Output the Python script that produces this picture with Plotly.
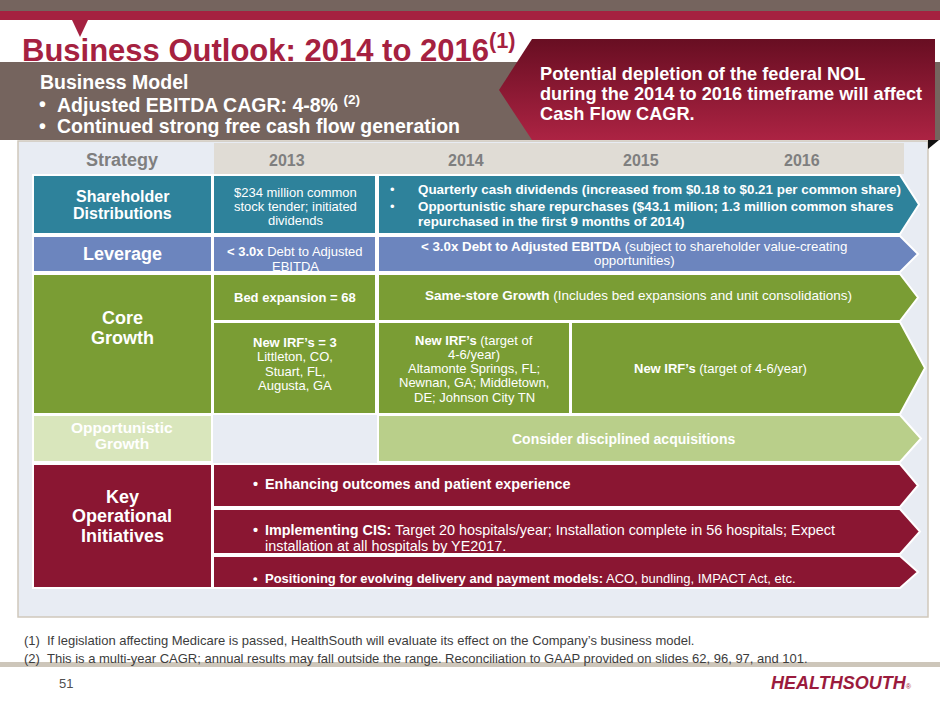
import plotly.graph_objects as go

FONT = "Arial, Liberation Sans, sans-serif"

# colours taken from the slide
CRIMSON = "#A52140"
BROWN = "#75645E"
TEAL = "#2E829B"
SLATE = "#6C85BE"
GREEN = "#7A9D34"
PALE_GREEN = "#D9E6BC"
LIGHT_GREEN = "#B9CF8A"
WINE = "#8A1632"
GREY_TXT = "#7F7F7F"

# ---- slide content ----
title = "Business Outlook: 2014 to 2016"
business_model = ["Business Model",
                  "Adjusted EBITDA CAGR: 4-8% <sup>(2)</sup>",
                  "Continued strong free cash flow generation"]
nol_note = ["Potential depletion of the federal NOL",
            "during the 2014 to 2016 timeframe will affect",
            "Cash Flow CAGR."]
years = ["2013", "2014", "2015", "2016"]
strategy_labels = [["Shareholder", "Distributions"],
                   ["Leverage"],
                   ["Core", "Growth"],
                   ["Opportunistic", "Growth"],
                   ["Key", "Operational", "Initiatives"]]
distributions_2013 = ["$234 million common", "stock tender; initiated", "dividends"]
distributions_2014_16 = [
    "Quarterly cash dividends (increased from $0.18 to $0.21 per common share)",
    "Opportunistic share repurchases ($43.1 milion; 1.3 million common shares",
    "repurchased in the first 9 months of 2014)"]
leverage_2013 = ["<b>&lt; 3.0x</b> Debt to Adjusted", "EBITDA"]
leverage_2014_16 = ["<b>&lt; 3.0x Debt to Adjusted EBITDA</b> (subject to shareholder value-creating",
                    "opportunities)"]
beds_2013 = "<b>Bed expansion = 68</b>"
same_store = "<b>Same-store Growth</b> (Includes bed expansions and unit consolidations)"
irf_2013 = ["<b>New IRF’s = 3</b>", "Littleton, CO,", "Stuart, FL,", "Augusta, GA"]
irf_2014 = ["<b>New IRF’s</b> (target of", "4-6/year)", "Altamonte Springs, FL;",
            "Newnan, GA; Middletown,", "DE; Johnson City TN"]
irf_2015_16 = "<b>New IRF’s</b> (target of 4-6/year)"
acquisitions = "<b>Consider disciplined acquisitions</b>"
initiatives = [["<b>Enhancing outcomes and patient experience</b>"],
               ["<b>Implementing CIS:</b> Target 20 hospitals/year; Installation complete in 56 hospitals; Expect",
                "installation at all hospitals by YE2017."],
               ["<b>Positioning for evolving delivery and payment models:</b> ACO, bundling, IMPACT Act, etc."]]
footnotes = ["(1)", "If legislation affecting Medicare is passed, HealthSouth will evaluate its effect on the Company’s business model.",
             "(2)", "This is a multi-year CAGR; annual results may fall outside the range. Reconciliation to GAAP provided on slides 62, 96, 97, and 101."]
page_no = "51"
logo = "HEALTHSOUTH"

shapes = []
annotations = []


def rect(x0, y0, x1, y1, fill, line="white", lw=0):
    shapes.append(dict(type="rect", xref="x", yref="y", x0=x0, y0=y0, x1=x1, y1=y1,
                       fillcolor=fill, line=dict(color=line, width=lw), layer="below"))


def poly(pts, fill, line="white", lw=0):
    path = "M" + " L".join(f"{x},{y}" for x, y in pts) + " Z"
    shapes.append(dict(type="path", xref="x", yref="y", path=path,
                       fillcolor=fill, line=dict(color=line, width=lw), layer="below"))


def arrow(x0, y0, x1, y1, tip, fill):
    poly([(x0, y0), (x1, y0), (tip, (y0 + y1) / 2), (x1, y1), (x0, y1)], fill, lw=2)


def text(x, y, s, size, color="white", anchor="center", style="normal"):
    annotations.append(dict(x=x, y=y, xref="x", yref="y", text=s, showarrow=False,
                            xanchor=anchor, yanchor="middle",
                            font=dict(family=FONT, size=size, color=color, style=style)))


# header bars
rect(0, 0, 940, 11, BROWN)
rect(0, 11, 940, 20, CRIMSON)
poly([(72, 20), (88, 20), (80, 37)], CRIMSON)
rect(0, 62, 940, 140, BROWN)

# table panel
rect(18, 141, 928, 617, "#E8ECF3", "#CFC8BC", 1.5)
rect(214, 143, 904, 174, "#E0DCD5")
poly([(928, 140), (939, 140), (928, 149)], "#111111")

# strategy column
left_rows = [(175, 234, TEAL), (236, 272, SLATE), (274, 414, GREEN),
             (415, 462, PALE_GREEN), (464, 588, WINE)]
for y0, y1, c in left_rows:
    rect(33, y0, 212, y1, c, "white", 2)

# 2013 column
rect(213, 175, 376, 234, TEAL, "white", 2)
rect(213, 236, 376, 272, SLATE, "white", 2)
rect(213, 274, 376, 321, GREEN, "white", 2)
rect(213, 322, 376, 414, GREEN, "white", 2)

# 2014-2016 arrows
arrow(378, 175, 900, 234, 919, TEAL)
arrow(378, 236, 900, 272, 918, SLATE)
arrow(378, 274, 900, 321, 918, GREEN)
rect(378, 322, 570, 414, GREEN, "white", 2)
arrow(571, 322, 900, 414, 925, GREEN)
arrow(378, 415, 900, 462, 921, LIGHT_GREEN)
arrow(213, 464, 900, 507, 918, WINE)
arrow(213, 509, 900, 554, 920, WINE)
arrow(213, 556, 900, 588, 918, WINE)

# footer line
rect(0, 662, 940, 667, "#CDC6BA")

# ---- texts ----
text(20, 48, f"<b>{title}<sup>(1)</sup></b>", 31, CRIMSON, "left")

text(38, 82, f"<b>{business_model[0]}</b>", 19.5, "white", "left")
for y, s in zip([104, 126], business_model[1:]):
    text(37, y, "<b>•</b>", 19.5, "white", "left")
    text(55, y, f"<b>{s}</b>", 19.5, "white", "left")

for y, s in zip([74, 94, 114], nol_note):
    text(538, y, f"<b>{s}</b>", 18.2, "white", "left")

text(122, 160, "<b>Strategy</b>", 18, GREY_TXT)
for x, s in zip([287, 466, 641, 802], years):
    text(x, 160, f"<b>{s}</b>", 16, GREY_TXT)

label_pos = [([196, 213], 16), ([254], 18), ([318, 338], 18),
             ([427, 443], 15.5), ([497, 516, 536], 18)]
for (ys, size), lines in zip(label_pos, strategy_labels):
    for y, s in zip(ys, lines):
        text(122, y, f"<b>{s}</b>", size)

for y, s in zip([192, 206, 220], distributions_2013):
    text(295, y, s, 13)
for y, s in zip([251, 266], leverage_2013):
    text(295, y, s, 13)
text(295, 297, beds_2013, 13)
for y, s in zip([342, 356, 371, 385], irf_2013):
    text(295, y, s, 13)

for y in [189, 206]:
    text(388, y, "•", 13, "white", "left")
for y, s in zip([189, 206, 221], distributions_2014_16):
    text(416, y, f"<b>{s}</b>", 13.4, "white", "left")
for y, s in zip([246, 260], leverage_2014_16):
    text(634, y, s, 13.3)
text(638, 295, same_store, 13.5)
for y, s in zip([340, 354, 368, 382, 397], irf_2014):
    text(474, y, s, 13)
text(720, 368, irf_2015_16, 13)
text(623, 439, acquisitions, 14)

for ys, lines, size in zip([[484], [530, 546], [578]], initiatives, [14.4, 14.4, 13]):
    text(251, ys[0], "<b>•</b>", size, "white", "left")
    for y, s in zip(ys, lines):
        text(263, y, s, size, "white", "left")

for y, (n, s) in zip([640, 658], [footnotes[0:2], footnotes[2:4]]):
    text(22, y, n, 13, "#3C3C3C", "left")
    text(45, y, s, 13, "#3C3C3C", "left")

text(57, 683, page_no, 13, "#505050", "left")
text(769, 683, f"<b>{logo}</b><span style='font-size:7px'>®</span>", 18, "#9B1B3D", "left", "italic")

fig = go.Figure()

# red call-out box with vertical shading
fig.add_trace(go.Scatter(
    x=[532, 935, 935, 532, 499, 532], y=[39, 39, 140, 140, 90, 39],
    mode="lines", line=dict(width=0), fill="toself", hoverinfo="skip",
    fillgradient=dict(type="vertical", start=39, stop=140,
                      colorscale=[[0, "#680E22"], [1, "#AC2343"]])))

fig.update_layout(
    width=940, height=705,
    margin=dict(l=0, r=0, t=0, b=0),
    paper_bgcolor="white", plot_bgcolor="white",
    showlegend=False,
    xaxis=dict(range=[0, 940], visible=False, fixedrange=True),
    yaxis=dict(range=[705, 0], visible=False, fixedrange=True),
    shapes=shapes, annotations=annotations,
    font=dict(family=FONT),
)

fig.write_html("out.html", config={"displayModeBar": False},
               post_script="document.body.style.margin='0';")
